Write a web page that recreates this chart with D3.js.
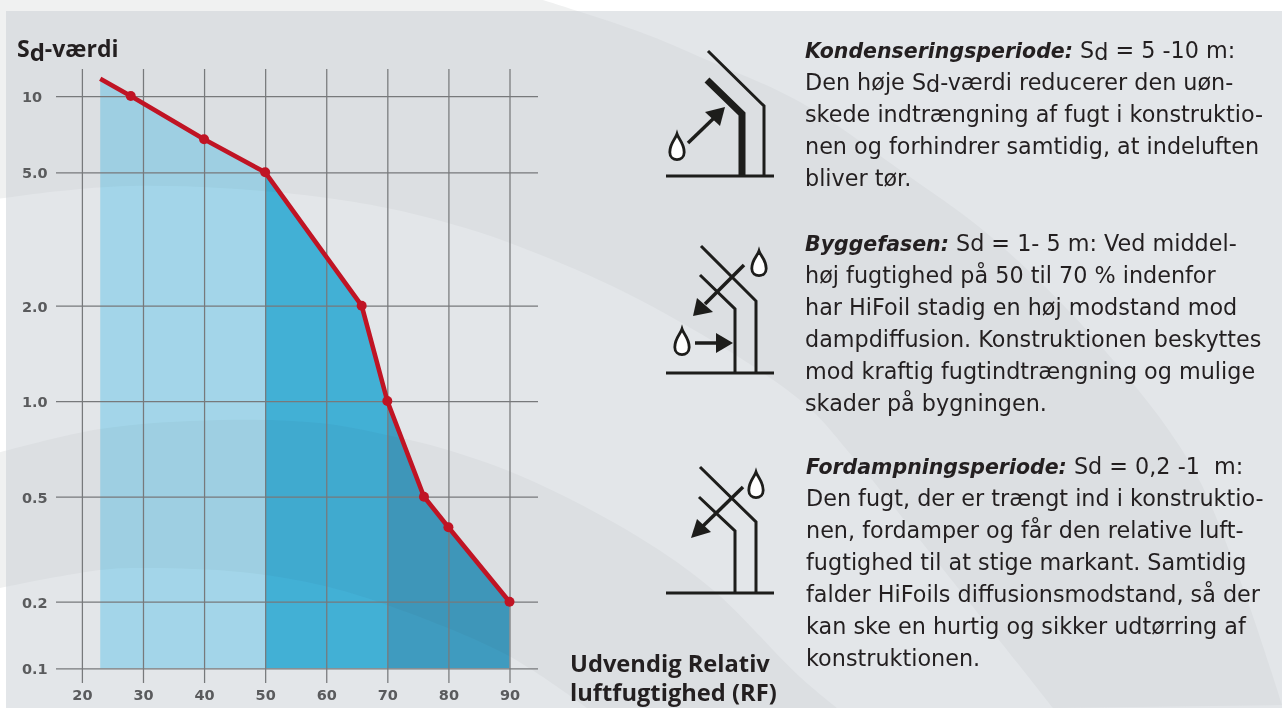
<!DOCTYPE html>
<html lang="da">
<head>
<meta charset="utf-8">
<script src="https://cdn.jsdelivr.net/npm/d3@7"></script>
<style>
html,body{margin:0;padding:0;background:#fff;overflow:hidden}
svg{display:block}
</style>
</head>
<body>
<svg id="c" width="1282" height="708"></svg>
<script>
// ---- chart values ----
const rfValues = [23, 28, 40, 50, 65.8, 70, 76, 80, 90];
const sdValues = [11.7, 10, 6.75, 5, 2, 1, 0.5, 0.383, 0.2];
const markerFlags = [0, 1, 1, 1, 1, 1, 1, 1, 1];
const xTicks = [20, 30, 40, 50, 60, 70, 80, 90];
const yTicks = [10, 5, 2, 1, 0.5, 0.2, 0.1];
const yTickLabels = ["10", "5.0", "2.0", "1.0", "0.5", "0.2", "0.1"];
const zoneLimits = [[23, 50], [50, 70], [70, 90]];
const zoneColors = ["#b7edff", "#4ac3ea", "#47acd1"];

const xTitleLines = ["Udvendig Relativ", "luftfugtighed (RF)"];
// b = bold italic, n = normal, d = lowered "d"
const block1 = [
  [["b","Kondenseringsperiode:"],["n"," S"],["d","d"],["n"," = 5 -10 m:"]],
  [["n","Den høje S"],["d","d"],["n","-værdi reducerer den uøn-"]],
  [["n","skede indtrængning af fugt i konstruktio-"]],
  [["n","nen og forhindrer samtidig, at indeluften"]],
  [["n","bliver tør."]]
];
const block2 = [
  [["b","Byggefasen:"],["n"," Sd = 1- 5 m: Ved middel-"]],
  [["n","høj fugtighed på 50 til 70 % indenfor"]],
  [["n","har HiFoil stadig en høj modstand mod"]],
  [["n","dampdiffusion. Konstruktionen beskyttes"]],
  [["n","mod kraftig fugtindtrængning og mulige"]],
  [["n","skader på bygningen."]]
];
const block3 = [
  [["b","Fordampningsperiode:"],["n"," Sd = 0,2 -1  m:"]],
  [["n","Den fugt, der er trængt ind i konstruktio-"]],
  [["n","nen, fordamper og får den relative luft-"]],
  [["n","fugtighed til at stige markant. Samtidig"]],
  [["n","falder HiFoils diffusionsmodstand, så der"]],
  [["n","kan ske en hurtig og sikker udtørring af"]],
  [["n","konstruktionen."]]
];

const svg = d3.select("#c");
const W = 1282, H = 708;

// ---- scales: the printed axis is a hand-spaced logarithmic one ----
const x = d3.scaleLinear().domain([20, 90]).range([81.9, 509.5]);
const y = d3.scaleLog().domain(yTicks).range([96, 172.3, 305.7, 401, 496.7, 601.7, 668.3]);

// ---- decorative background ----
const arcA = [[530,-4],[640,32],[707,60],[800,102],[900,170],[990,236],[1100,345],[1190,463],[1240,580],[1282,705]];
const arcB = [[-10,200],[60,191],[130,186],[220,188],[320,197],[387,208],[448,223],[510,243],[640,300],[800,400],[853,457],[950,578],[1053,708]];
const arcC = [[-10,455],[100,429],[220,420],[320,423],[387,435],[448,450],[530,480],[640,538],[713,590],[800,677],[837,708]];
const arcD = [[-10,590],[100,570],[150,568],[240,572],[320,585],[387,605],[507,655],[587,708]];
const curve = d3.line().curve(d3.curveCatmullRom.alpha(0.5));
function band(upper, lower, extra){
  const u = curve(upper), l = curve(lower.slice().reverse());
  return u + "L" + l.slice(1) + extra + "Z";
}
const bandPaths = [
  "M-10,-10L530,-10L" + band(arcA, arcB, "L-10,-10").slice(1).replace(/Z$/, "") + "Z",
  band(arcC, arcD, "")
];
const defs = svg.append("defs");
defs.append("clipPath").attr("id","panel").append("rect")
  .attr("x",6).attr("y",11).attr("width",W-6).attr("height",H-11);
svg.append("rect").attr("width",W).attr("height",H).attr("fill","#ffffff");
svg.selectAll("path.outer").data(bandPaths).join("path").attr("class","outer").attr("d",d=>d).attr("fill","#f0f1f1");
const panel = svg.append("g").attr("clip-path","url(#panel)");
panel.append("rect").attr("width",W).attr("height",H).attr("fill","#e3e6e9");
panel.selectAll("path").data(bandPaths).join("path").attr("d",d=>d).attr("fill","#dcdfe2");

// ---- data ----
const pts = rfValues.map((rf,i)=>({rf, sd: sdValues[i], mark: markerFlags[i]}));

// ---- zones under the curve ----
const area = d3.area().x(d=>x(d.rf)).y0(y(0.1)).y1(d=>y(d.sd));
svg.append("g").selectAll("path").data(zoneLimits).join("path")
  .attr("d",([a,b])=>area(pts.filter(p=>p.rf>=a && p.rf<=b)))
  .attr("fill",(d,i)=>zoneColors[i])
  .style("mix-blend-mode","multiply");

// ---- axes & grid ----
const axisFont = "'DejaVu Sans', sans-serif";
const gx = svg.append("g").attr("transform",`translate(0,683)`)
  .call(d3.axisBottom(x).tickValues(xTicks).tickSizeInner(-614).tickSizeOuter(0).tickPadding(0).tickFormat(d3.format("d")));
gx.select(".domain").remove();
gx.selectAll("line").attr("stroke","#77797b").attr("stroke-width",1.25);
gx.selectAll("text").attr("y",17).attr("dy",0).attr("fill","#5a5b5d")
  .attr("font-family",axisFont).attr("font-weight",700).attr("font-size",14.5);

const gy = svg.append("g").attr("transform",`translate(56,0)`)
  .call(d3.axisLeft(y).tickValues(yTicks).tickSizeInner(-482).tickSizeOuter(0).tickFormat((d,i)=>yTickLabels[i]));
gy.select(".domain").remove();
gy.selectAll("line").attr("stroke","#77797b").attr("stroke-width",1.25);
gy.selectAll("text").attr("x",-34).attr("dy",5.5).attr("text-anchor","start").attr("fill","#5a5b5d")
  .attr("font-family",axisFont).attr("font-weight",700).attr("font-size",14.5);

// ---- curve & markers ----
const line = d3.line().x(d=>x(d.rf)).y(d=>y(d.sd));
svg.append("path").attr("d",line(pts)).attr("fill","none").attr("stroke","#c01424")
  .attr("stroke-width",4.6).attr("stroke-linejoin","round");
svg.selectAll("circle.m").data(pts.filter(p=>p.mark)).join("circle").attr("class","m")
  .attr("cx",d=>x(d.rf)).attr("cy",d=>y(d.sd)).attr("r",5).attr("fill","#c01424");

// ---- titles ----
const boldFont = "'Open Sans', sans-serif";
const ink = "#231f20";
const yTitle = svg.append("text").attr("x",17).attr("y",57).attr("font-family",boldFont).attr("font-weight",700).attr("font-size",23).attr("fill",ink);
yTitle.append("tspan").text("S");
yTitle.append("tspan").attr("dy",4).attr("font-size",24).text("d");
yTitle.append("tspan").attr("dy",-4).text("-værdi");
svg.selectAll("text.xt").data(xTitleLines).join("text").attr("class","xt")
  .attr("x",570).attr("y",(d,i)=>672+i*29)
  .attr("font-family",boldFont).attr("font-weight",700).attr("font-size",23.7).attr("fill",ink).text(d=>d);

// ---- body text ----
function writeBlock(lines, x0, y0){
  lines.forEach((segs,i)=>{
    const t = svg.append("text").attr("x",x0).attr("y",y0+i*32).attr("xml:space","preserve")
      .attr("font-family","'DejaVu Sans', sans-serif").attr("font-size",22.3).attr("fill",ink)
      .style("white-space","pre");
    let lowered = false;
    segs.forEach(([k,s])=>{
      const ts = t.append("tspan").text(s);
      if(k==="b") ts.attr("font-weight",700).attr("font-style","italic").attr("font-size",20.5);
      if(k==="d"){ ts.attr("dy",2); lowered = true; }
      else if(lowered){ ts.attr("dy",-2); lowered = false; }
    });
  });
}
writeBlock(block1, 805, 58);
writeBlock(block2, 805, 251);
writeBlock(block3, 806, 474);

// ---- icons ----
const iconInk = "#1d1d1b";
const poly = d3.line();
function stroke(pp, w){
  svg.append("path").attr("d",poly(pp)).attr("fill","none").attr("stroke",iconInk).attr("stroke-width",w).attr("stroke-linejoin","miter");
}
function head(pp){
  svg.append("path").attr("d",poly(pp)+"Z").attr("fill",iconInk);
}
function drop(cx, top, bottom){
  const hw = 7.2, r = top + (bottom-top)*0.7;
  const d = d3.path();
  d.moveTo(cx, top);
  d.bezierCurveTo(cx+1.5, top+5, cx+hw, r-9, cx+hw, r);
  d.bezierCurveTo(cx+hw, bottom+2, cx-hw, bottom+2, cx-hw, r);
  d.bezierCurveTo(cx-hw, r-9, cx-1.5, top+5, cx, top);
  d.closePath();
  svg.append("path").attr("d",d.toString()).attr("fill","#ffffff").attr("stroke",iconInk).attr("stroke-width",2.8);
}
// icon 1
stroke([[708,51],[764,106],[764,176]],3);
stroke([[707,80],[742,114],[742,176]],7);
stroke([[666,176],[774,176]],3);
stroke([[688,143],[715,117]],3.5);
head([[725,107],[705,112],[720,126]]);
drop(677,134,160);
// icon 2
stroke([[701,246],[756,301],[756,373]],3);
stroke([[700,275],[735,309],[735,373]],3);
stroke([[666,373],[774,373]],3);
stroke([[744,265],[705,304]],3.5);
head([[693,316],[697,298],[713,312]]);
stroke([[695,343],[718,343]],3.5);
head([[733,343],[716,333],[716,353]]);
drop(759,251,276);
drop(682,329,355);
// icon 3
stroke([[700,467],[756,522],[756,593]],3);
stroke([[699,497],[735,531],[735,593]],3);
stroke([[666,593],[774,593]],3);
stroke([[743,487],[703,526]],3.5);
head([[691,538],[697,519],[711,532]]);
drop(756,472,498);
</script>
</body>
</html>
